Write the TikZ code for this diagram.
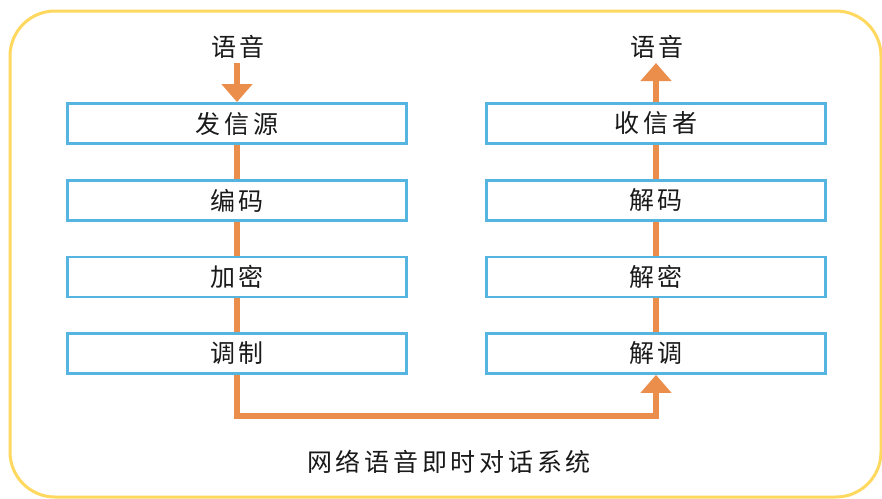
\documentclass[tikz,border=0pt]{standalone}
\usepackage{fontspec}
\setmainfont{Noto Sans CJK SC}[LetterSpace=15]
\usetikzlibrary{arrows.meta}
\definecolor{frameY}{RGB}{255,216,96}
\definecolor{boxB}{RGB}{86,180,224}
\definecolor{flowO}{RGB}{235,142,76}
\begin{document}
\begin{tikzpicture}[x=1pt,y=-1pt,
  stage/.style={draw=boxB,line width=2.8pt,minimum width=339pt,minimum height=40pt,inner sep=0pt,font=\fontsize{25}{25}\selectfont,text=black!90},
  lbl/.style={font=\fontsize{25}{25}\selectfont,text=black!90,inner sep=0pt},
  flow/.style={draw=flowO,line width=5.5pt},
  head/.style={-{Triangle[width=30pt,length=18pt]},flowO}]
\useasboundingbox (0,0) rectangle (882,498);
\draw[frameY,line width=3pt,rounded corners=45pt] (10,11) rectangle (881,497);
% left column
\node[lbl] (inL) at (238,47) {语音};
\node[stage] (s1) at (237,123.5) {发信源};
\node[stage] (s2) at (237,200.5) {编码};
\node[stage] (s3) at (237,277) {加密};
\node[stage] (s4) at (237,353.5) {调制};
% right column
\node[lbl] (outR) at (657,47) {语音};
\node[stage] (r1) at (656,123.5) {收信者};
\node[stage] (r2) at (656,200.5) {解码};
\node[stage] (r3) at (656,277) {解密};
\node[stage] (r4) at (656,353.5) {解调};
\coordinate (bl) at (237,416);
\coordinate (br) at (656,416);
\coordinate (topL) at (237,63);
\coordinate (topR) at (656,63);
% connectors
\draw[flow,head] (topL) -- (s1.north);
\draw[flow] (s1) -- (s2);
\draw[flow] (s2) -- (s3);
\draw[flow] (s3) -- (s4);
\draw[flow,head] (s4.south) -- (bl) -- (br) -- (r4.south);
\draw[flow] (r4) -- (r3);
\draw[flow] (r3) -- (r2);
\draw[flow] (r2) -- (r1);
\draw[flow,head] (r1.north) -- (topR);
\node[lbl] (title) at (449,462) {网络语音即时对话系统};
\end{tikzpicture}
\end{document}
